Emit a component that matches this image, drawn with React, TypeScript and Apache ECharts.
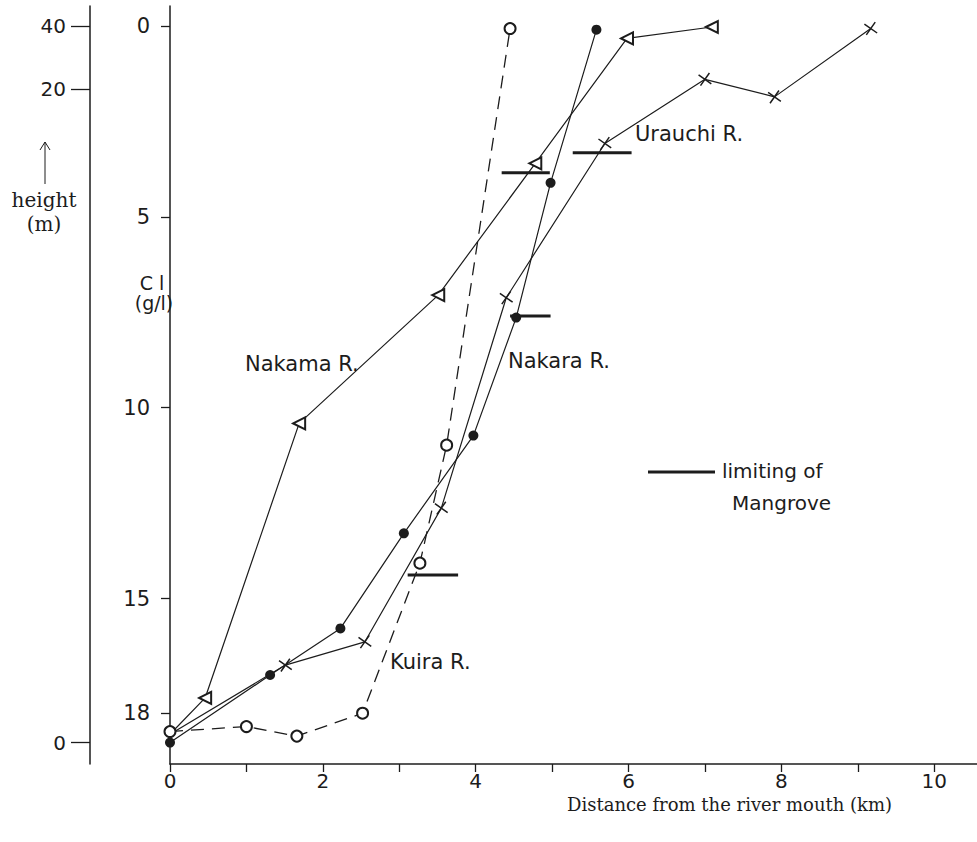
import React, { useEffect, useRef } from "react";
import * as echarts from "echarts";

// ---- data ----
const nakamaKm = [0, 0.46, 1.69, 3.51, 4.78, 5.98, 7.09];
const nakamaCl = [18.55, 17.6, 10.41, 7.05, 3.6, 0.33, 0.03];

const nakaraKm = [0, 1.31, 2.23, 3.06, 3.97, 4.53, 4.98, 5.58];
const nakaraCl = [18.77, 17.0, 15.78, 13.29, 10.73, 7.64, 4.11, 0.1];

const urauchiKm = [0, 1.51, 2.55, 3.55, 4.4, 5.69, 7.0, 7.91, 9.17];
const urauchiCl = [18.55, 16.74, 16.13, 12.63, 7.12, 3.08, 1.4, 1.86, 0.07];

const kuiraKm = [0, 1.0, 1.66, 2.52, 3.27, 3.62, 4.45];
const kuiraCl = [18.48, 18.35, 18.6, 18.0, 14.07, 10.98, 0.07];

// limiting of mangrove: [startKm, endKm, Cl]
const limitNames = ["Nakama R.", "Urauchi R.", "Nakara R.", "Kuira R."];
const limitStartKm = [4.34, 5.27, 4.45, 3.11];
const limitEndKm = [4.97, 6.04, 4.98, 3.77];
const limitCl = [3.85, 3.32, 7.6, 14.38];

const xTickValues = [0, 1, 2, 3, 4, 5, 6, 7, 8, 9, 10];
const xLabelValues = [0, 2, 4, 6, 8, 10];
const clTickValues = [0, 5, 10, 15, 18];
const heightLabels = ["40", "20", "0"];
const heightTickAtCl = [0, 1.66, 18.77];

const INK = "#1c1c1c";
const SANS = "DejaVu Sans";
const SERIF = "DejaVu Serif";

const zip = (xs: number[], ys: number[]) => xs.map((x, i) => [x, ys[i]]);

export default function App() {
  const ref = useRef<HTMLDivElement>(null);

  useEffect(() => {
    if (!ref.current) return;
    const chart = echarts.init(ref.current, undefined, { renderer: "svg" });

    const firstNoSymbol = (pts: number[][]) =>
      pts.map((p, i) => (i === 0 ? { value: p, symbol: "none" } : { value: p }));

    const lineStyle = { color: INK, width: 1.2 };

    const crossPath = "path://M0,0L10,10M10,0L0,10";

    const series: any[] = [
      {
        name: "Nakama R.",
        type: "line",
        data: firstNoSymbol(zip(nakamaKm, nakamaCl)),
        symbol: "emptyTriangle",
        symbolSize: 12,
        symbolRotate: 90,
        lineStyle,
        itemStyle: { color: INK, borderWidth: 1.4 },
        z: 3,
      },
      {
        name: "Nakara R.",
        type: "line",
        data: zip(nakaraKm, nakaraCl),
        symbol: "circle",
        symbolSize: 10,
        lineStyle,
        itemStyle: { color: INK },
        z: 3,
      },
      {
        name: "Urauchi R.",
        type: "line",
        data: firstNoSymbol(zip(urauchiKm, urauchiCl)),
        symbol: crossPath,
        symbolSize: 11,
        symbolRotate: 10,
        lineStyle,
        itemStyle: { color: "none", borderColor: INK, borderWidth: 1.5 },
        z: 3,
      },
      {
        name: "Kuira R.",
        type: "line",
        data: zip(kuiraKm, kuiraCl),
        symbol: "emptyCircle",
        symbolSize: 11,
        lineStyle: { color: INK, width: 1.3, type: [13, 8] },
        itemStyle: { color: INK, borderWidth: 1.4 },
        z: 4,
      },
    ];

    limitNames.forEach((n, i) => {
      series.push({
        name: "limit " + n,
        type: "line",
        data: [
          [limitStartKm[i], limitCl[i]],
          [limitEndKm[i], limitCl[i]],
        ],
        symbol: "none",
        lineStyle: { color: INK, width: 3 },
        z: 5,
      });
    });

    const labelStyle = { fill: INK, font: `21px '${SANS}'` };

    chart.setOption({
      animation: false,
      backgroundColor: "#ffffff",
      grid: { left: 170, right: 0, top: 6, bottom: 78, containLabel: false },
      xAxis: {
        type: "value",
        min: 0,
        max: 10.56,
        axisLine: { show: true, onZero: false, lineStyle: { color: INK, width: 1.5 } },
        axisTick: { show: true, length: 8, customValues: xTickValues, lineStyle: { color: INK, width: 1.3 } },
        axisLabel: {
          customValues: xLabelValues,
          color: INK,
          fontFamily: SANS,
          fontSize: 20,
          margin: 7,
          showMaxLabel: true,
        },
        splitLine: { show: false },
      },
      yAxis: [
        {
          type: "value",
          inverse: true,
          min: -0.52,
          max: 19.33,
          position: "left",
          axisLine: { show: true, onZero: false, lineStyle: { color: INK, width: 1.5 } },
          axisTick: { show: true, length: 9, customValues: clTickValues, lineStyle: { color: INK, width: 1.3 } },
          axisLabel: {
            customValues: clTickValues,
            color: INK,
            fontFamily: SANS,
            fontSize: 21,
            margin: 20,
          },
          splitLine: { show: false },
        },
        {
          type: "value",
          inverse: true,
          min: -0.52,
          max: 19.33,
          position: "left",
          offset: 80,
          axisLine: { show: true, onZero: false, lineStyle: { color: INK, width: 1.5 } },
          axisTick: { show: true, length: 19, customValues: heightTickAtCl, lineStyle: { color: INK, width: 1.3 } },
          axisLabel: {
            customValues: heightTickAtCl,
            color: INK,
            fontFamily: SANS,
            fontSize: 20,
            margin: 24,
            formatter: (v: number) => {
              let best = 0;
              heightTickAtCl.forEach((c, i) => {
                if (Math.abs(c - v) < Math.abs(heightTickAtCl[best] - v)) best = i;
              });
              return heightLabels[best];
            },
          },
          splitLine: { show: false },
        },
      ],
      series,
      graphic: [
        { type: "text", left: 245, top: 353, style: { ...labelStyle, text: "Nakama R." } },
        { type: "text", left: 508, top: 350, style: { ...labelStyle, text: "Nakara R." } },
        { type: "text", left: 635, top: 123, style: { ...labelStyle, text: "Urauchi R." } },
        { type: "text", left: 390, top: 651, style: { ...labelStyle, text: "Kuira R." } },
        // Cl (g/l)
        { type: "text", x: 152, y: 283, style: { ...labelStyle, font: `19px '${SANS}'`, text: "C l", align: "center", verticalAlign: "middle" } },
        { type: "text", x: 154, y: 303, style: { ...labelStyle, font: `19px '${SANS}'`, text: "(g/l)", align: "center", verticalAlign: "middle" } },
        // height (m) with arrow
        { type: "line", shape: { x1: 45, y1: 184, x2: 45, y2: 142 }, style: { stroke: INK, lineWidth: 1 } },
        { type: "polyline", shape: { points: [[40, 150], [45, 142], [50, 150]] }, style: { stroke: INK, lineWidth: 1, fill: "none" } },
        { type: "text", x: 44, y: 200, style: { fill: INK, font: `20px '${SERIF}'`, text: "height", align: "center", verticalAlign: "middle" } },
        { type: "text", x: 44, y: 224, style: { fill: INK, font: `20px '${SERIF}'`, text: "(m)", align: "center", verticalAlign: "middle" } },
        // x axis title
        { type: "text", x: 567, y: 804, style: { fill: INK, font: `18px '${SERIF}'`, text: "Distance from the river mouth (km)", verticalAlign: "middle" } },
        // legend
        { type: "line", shape: { x1: 648, y1: 472, x2: 715, y2: 472 }, style: { stroke: INK, lineWidth: 3 } },
        { type: "text", x: 722, y: 471, style: { ...labelStyle, font: `20px '${SANS}'`, text: "limiting of", verticalAlign: "middle" } },
        { type: "text", x: 732, y: 503, style: { ...labelStyle, font: `20px '${SANS}'`, text: "Mangrove", verticalAlign: "middle" } },
      ],
    });

    return () => chart.dispose();
  }, []);

  return (
    <div
      ref={ref}
      style={{ position: "fixed", left: 0, top: 0, width: 977, height: 842, background: "#fff" }}
    />
  );
}
